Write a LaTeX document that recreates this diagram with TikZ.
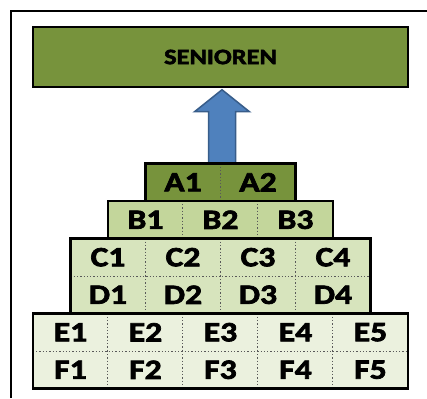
\documentclass[tikz,border=0pt]{standalone}
\usepackage{fontspec}
\setmainfont{Carlito}[FakeStretch=1.2, BoldFeatures={FakeBold=2.5}]
\usetikzlibrary{calc}
\definecolor{cA}{HTML}{77933C}
\definecolor{cB}{HTML}{C3D69B}
\definecolor{cC}{HTML}{D7E4BD}
\definecolor{cE}{HTML}{EBF1DE}
\definecolor{arrfill}{HTML}{4F81BD}
\definecolor{arrline}{HTML}{385D8A}
\begin{document}
\begin{tikzpicture}[x=1pt,y=-1pt,
  cell/.style={minimum width=75pt, minimum height=37.5pt, inner sep=0pt,
    font=\fontsize{28}{28}\selectfont\bfseries},
  divider/.style={draw=black!65, line width=1.3pt, dotted},
  blockframe/.style={draw=black, line width=2.5pt},
  uparrow/.style={fill=arrfill, draw=arrline, line width=1.5pt, line join=miter}]
\useasboundingbox (0,0) rectangle (427,398);
% page frame
\draw[line width=1.5pt] (11,398) -- (11,11) -- (427,11);
% top box
\node[blockframe, fill=cA, minimum width=375pt, minimum height=60pt, inner sep=0pt,
  font=\fontsize{22}{22}\selectfont\bfseries] (sen) at (220.5,57) {SENIOREN};
% pyramid cells
\foreach \r/\n/\yc/\col in {A/2/182.25/cA, B/3/219.75/cB, C/4/257.25/cC,
                            D/4/294.75/cC, E/5/332.25/cE, F/5/369.75/cE} {
  \foreach \i in {1,...,\n} {
    \node[cell, fill=\col] (\r\i) at ({220.5 + (\i - (\n+1)/2)*75}, \yc) {\r\i};
  }
}
% arrow from the pyramid up to the top box
\coordinate (tip) at ($(sen.south)+(1.5,1.5)$);
\coordinate (hr) at ($(tip)+(27.5,22)$);
\coordinate (hl) at ($(tip)+(-27.5,22)$);
\coordinate (sr) at ($(tip)+(13.5,22)$);
\coordinate (sl) at ($(tip)+(-13.5,22)$);
\draw[uparrow] (tip) -- (hr) -- (sr) -- (sr |- A1.north) -- (sl |- A1.north)
  -- (sl) -- (hl) -- cycle;
% dotted dividers between cells
\foreach \r/\n in {A/2, B/3, C/4, D/4, E/5, F/5} {
  \foreach \i in {2,...,\n} {
    \draw[divider] (\r\i.north west) -- (\r\i.south west);
  }
}
\draw[divider] (C1.south west) -- (C4.south east);
\draw[divider] (E1.south west) -- (E5.south east);
% solid outlines of the tiers
\draw[blockframe] (A1.north west) rectangle (A2.south east);
\draw[blockframe] (B1.north west) rectangle (B3.south east);
\draw[blockframe] (C1.north west) rectangle (D4.south east);
\draw[blockframe] (E1.north west) rectangle (F5.south east);
\end{tikzpicture}
\end{document}
